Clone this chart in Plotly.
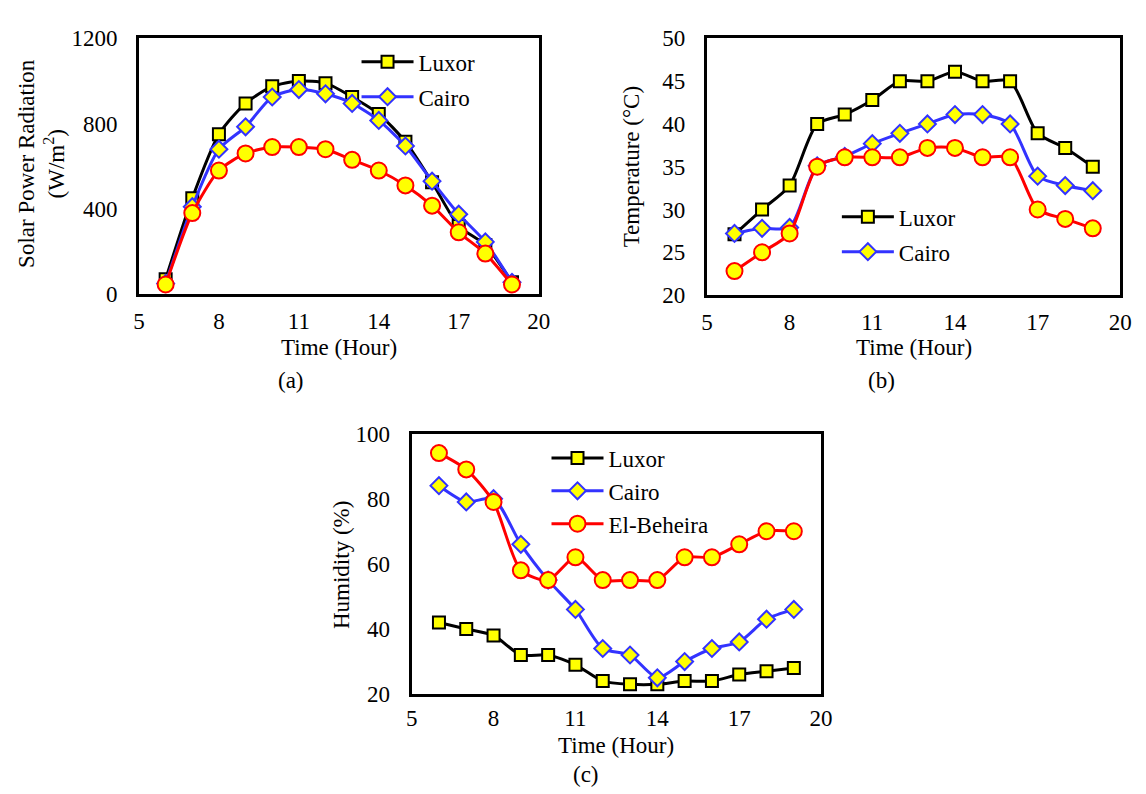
import plotly.graph_objects as go

W, H = 1146, 794

hours = [6, 7, 8, 9, 10, 11, 12, 13, 14, 15, 16, 17, 18, 19]

# (a) Solar power radiation (W/m2)
rad_luxor = [70, 450, 750, 895, 975, 1000, 990, 925, 845, 715, 525, 320, 230, 55]
rad_cairo = [50, 410, 680, 785, 925, 960, 940, 895, 815, 695, 530, 375, 245, 55]
rad_beheira = [45, 380, 580, 660, 690, 690, 680, 630, 580, 510, 415, 290, 190, 45]

# (b) Temperature (°C)
temp_luxor = [27.1, 30.0, 32.8, 40.0, 41.1, 42.8, 45.0, 45.0, 46.1, 45.0, 45.0, 38.9, 37.2, 35.0]
temp_cairo = [27.2, 27.8, 27.9, 35.1, 36.2, 37.7, 38.9, 40.0, 41.1, 41.1, 40.0, 33.9, 32.8, 32.2]
temp_beheira = [22.8, 25.0, 27.2, 35.0, 36.1, 36.1, 36.1, 37.2, 37.2, 36.1, 36.1, 30.0, 28.9, 27.8]

# (c) Humidity (%)
hum_luxor = [42, 40, 38, 32, 32, 29, 24, 23, 23, 24, 24, 26, 27, 28]
hum_cairo = [84, 79, 80, 66, 55, 46, 34, 32, 25, 30, 34, 36, 43, 46]
hum_beheira = [94, 89, 79, 58, 55, 62, 55, 55, 55, 62, 62, 66, 70, 70]

series_names = ["Luxor", "Cairo", "El-Beheira"]
x_ticks = [5, 8, 11, 14, 17, 20]

FONT = "Liberation Serif, Times New Roman, serif"
FS = 23
BLUE = "#3333FF"
styles = {
    "Luxor": dict(line=dict(color="black", width=3, shape="spline", smoothing=0.7),
                  marker=dict(symbol="square", size=12, color="#FFFF00",
                              line=dict(color="black", width=2))),
    "Cairo": dict(line=dict(color=BLUE, width=3, shape="spline", smoothing=0.7),
                  marker=dict(symbol="diamond", size=13, color="#FFFF00",
                              line=dict(color=BLUE, width=2))),
    "El-Beheira": dict(line=dict(color="#FF0000", width=3, shape="spline", smoothing=0.7),
                       marker=dict(symbol="circle", size=16, color="#FFFF00",
                                   line=dict(color="#FF0000", width=2))),
}

fig = go.Figure()

panels = [
    ("x", "y", "legend", [rad_luxor, rad_cairo, rad_beheira], [True, True, False]),
    ("x2", "y2", "legend2", [temp_luxor, temp_cairo, temp_beheira], [True, True, False]),
    ("x3", "y3", "legend3", [hum_luxor, hum_cairo, hum_beheira], [True, True, True]),
]
for xa, ya, lg, data, shows in panels:
    for name, vals, show in zip(series_names, data, shows):
        fig.add_trace(go.Scatter(x=hours, y=vals, name=name, mode="lines+markers",
                                 xaxis=xa, yaxis=ya, legend=lg, showlegend=show,
                                 legendgroup=lg + name, **styles[name]))

def px_x(p):
    return p / W

def px_y(p):
    return 1 - p / H

axis_common = dict(showline=True, linecolor="black", linewidth=3, mirror=True,
                   showgrid=False, zeroline=False, ticks="",
                   tickfont=dict(family=FONT, size=FS, color="black"))

dom = {
    "a": ([127, 533], [19, 283]),
    "b": ([704, 1124], [19, 284]),
    "c": ([404, 820], [427, 696]),
}

def xd(k):
    return [px_x(dom[k][0][0]), px_x(dom[k][0][1])]

def yd(k):
    return [px_y(dom[k][1][1]), px_y(dom[k][1][0])]

fig.update_layout(
    width=W, height=H, margin=dict(l=0, r=0, t=0, b=0),
    paper_bgcolor="white", plot_bgcolor="white",
    font=dict(family=FONT, size=FS, color="black"),
    xaxis=dict(domain=xd("a"), anchor="y", range=[5, 20], tickvals=x_ticks,
               ticklabelstandoff=4, **axis_common),
    yaxis=dict(domain=yd("a"), anchor="x", range=[0, 1200], tickvals=[0, 400, 800, 1200],
               ticklabelstandoff=14, **axis_common),
    xaxis2=dict(domain=xd("b"), anchor="y2", range=[5, 20], tickvals=x_ticks,
                ticklabelstandoff=4, **axis_common),
    yaxis2=dict(domain=yd("b"), anchor="x2", range=[20, 50], tickvals=[20, 25, 30, 35, 40, 45, 50],
                ticklabelstandoff=14, **axis_common),
    xaxis3=dict(domain=xd("c"), anchor="y3", range=[5, 20], tickvals=x_ticks,
                ticklabelstandoff=1, **axis_common),
    yaxis3=dict(domain=yd("c"), anchor="x3", range=[20, 100], tickvals=[20, 40, 60, 80, 100],
                ticklabelstandoff=14, **axis_common),
)

leg_common = dict(font=dict(family=FONT, size=FS, color="black"), bgcolor="rgba(0,0,0,0)",
                  xanchor="left", yanchor="top", itemwidth=52, traceorder="grouped")
fig.update_layout(
    legend=dict(x=px_x(348), y=px_y(21), tracegroupgap=2, **leg_common),
    legend2=dict(x=px_x(836), y=px_y(181), tracegroupgap=2, **leg_common),
    legend3=dict(x=px_x(541), y=px_y(430), tracegroupgap=0, **leg_common),
)

def ann(text, x, y, angle=0):
    fig.add_annotation(text=text, x=px_x(x), y=px_y(y), xref="paper", yref="paper",
                       showarrow=False, textangle=angle, xanchor="center", yanchor="middle",
                       font=dict(family=FONT, size=FS, color="black"))

ann("Time (Hour)", 330, 338)
ann("Time (Hour)", 914, 338)
ann("Time (Hour)", 612, 749)
ann("(a)", 281, 372)
ann("(b)", 881, 372)
ann("(c)", 581, 779)
ann("Solar Power Radiation<br>(W/m<sup>2</sup>)", 28, 148, -90)
ann("Temperature (°C)", 627, 152, -90)
ann("Humidity (%)", 333, 563, -90)

fig.write_html("out.html")
